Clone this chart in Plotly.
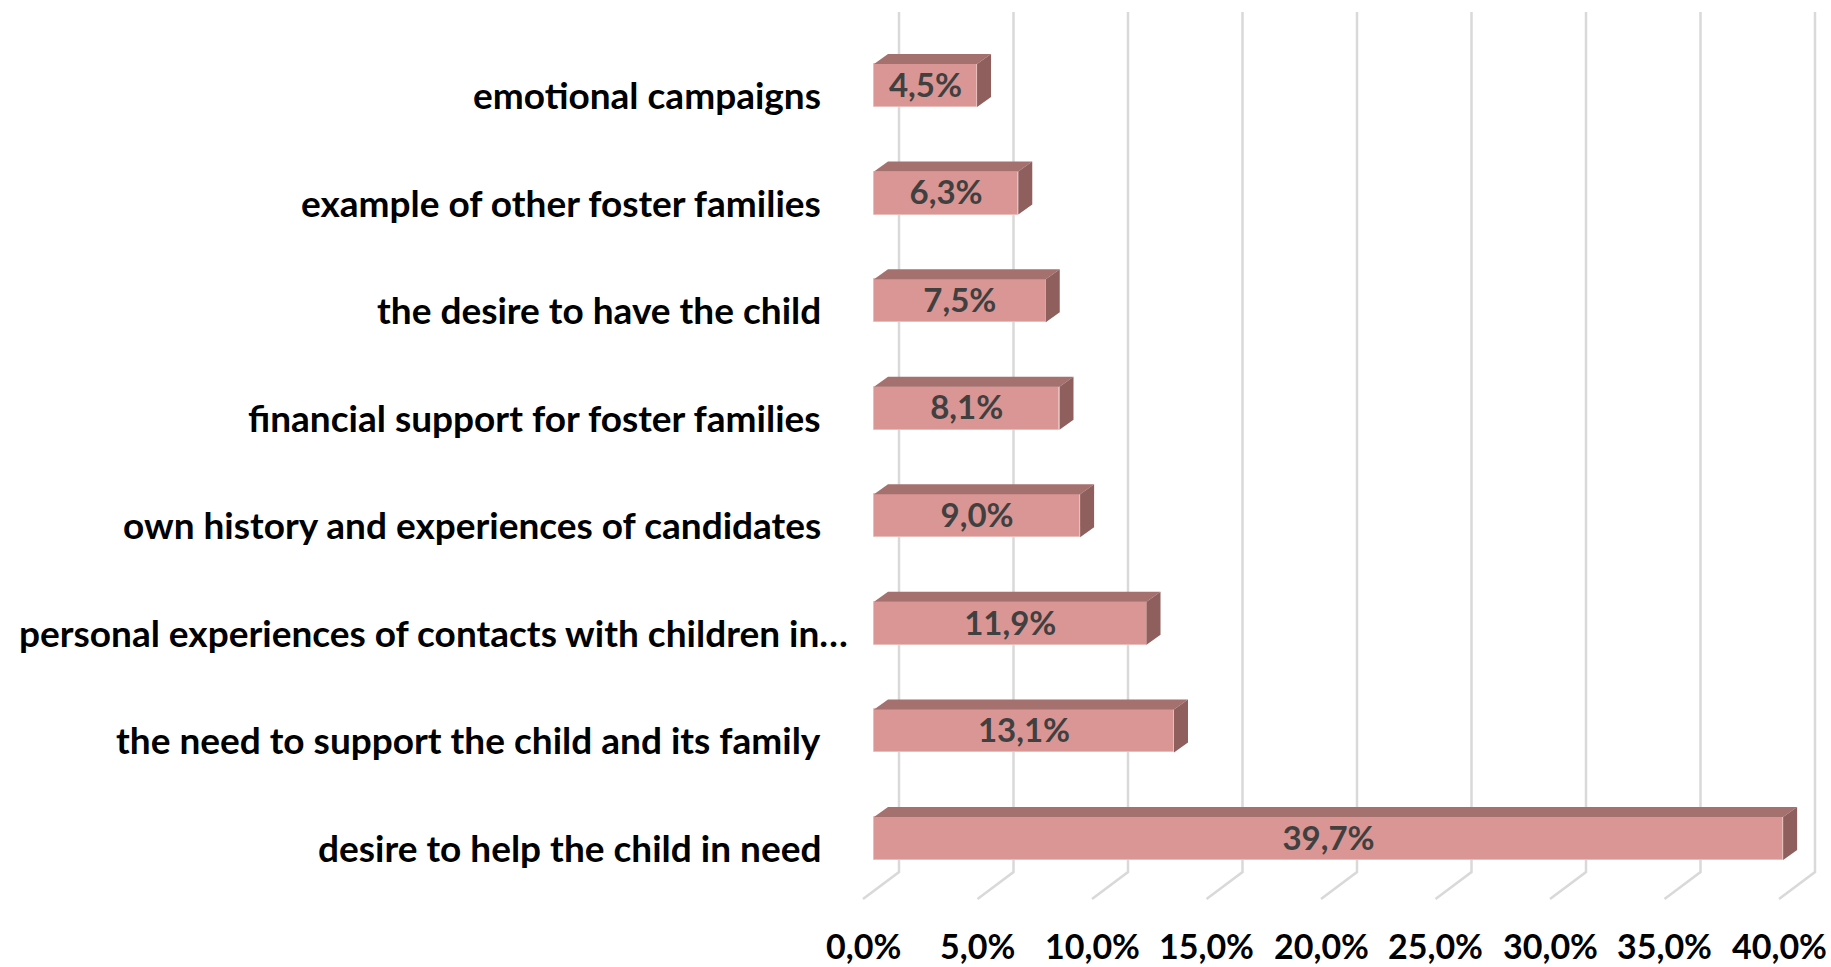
import plotly.graph_objects as go

# ---- data (bottom to top) ----
categories = [
    "desire to help the child in need",
    "the need to support the child and its family",
    "personal experiences of contacts with children in…",
    "own history and experiences of candidates",
    "financial support for foster families",
    "the desire to have the child",
    "example of other foster families",
    "emotional campaigns",
]
values = [39.7, 13.1, 11.9, 9.0, 8.1, 7.5, 6.3, 4.5]
tick_values = [0, 5, 10, 15, 20, 25, 30, 35, 40]
tick_labels = ["0,0%", "5,0%", "10,0%", "15,0%", "20,0%", "25,0%", "30,0%", "35,0%", "40,0%"]

# ---- geometry (pixel-based style constants) ----
W, H = 1831, 967
PX = 22.9          # px per percentage point
PY = 107.57        # px per category
X_ZERO_PX = 874    # pixel of value 0 on bar front plane
Y_BOTTOM_PX = 838.5  # pixel of bottom category center
X0 = -X_ZERO_PX / PX
X1 = (W - X_ZERO_PX) / PX
YHI = Y_BOTTOM_PX / PY
YLO = -(H - Y_BOTTOM_PX) / PY

def ypix(p):
    return YHI - p / PY

BAR_H = 43 / PY
DX = 14 / PX
DY = 10 / PY

FRONT = "#D99694"
TOP = "#A5716F"
SIDE = "#8F5F5E"
EDGE = "#E8BEBD"
GRID = "#D9D9D9"
FONT = "Lato"

fig = go.Figure()

# gridlines (back wall + floor diagonal)
shapes = []
for v in tick_values:
    xb = v + 25 / PX
    xf = v - 11 / PX
    path = f"M {xb},{ypix(12)} L {xb},{ypix(872)} L {xf},{ypix(899)}"
    shapes.append(dict(type="path", path=path, xref="x", yref="y",
                       line=dict(color=GRID, width=2.5), layer="below"))

ys = list(range(len(categories)))

# front faces
fig.add_trace(go.Bar(
    x=values, y=ys, orientation="h", width=BAR_H,
    marker=dict(color=FRONT, line=dict(color=EDGE, width=1)),
    hoverinfo="skip", showlegend=False,
))

# top and side faces
for v, y in zip(values, ys):
    yt = y + BAR_H / 2
    yb = y - BAR_H / 2
    fig.add_trace(go.Scatter(
        x=[0, v, v + DX, DX, 0], y=[yt, yt, yt + DY, yt + DY, yt],
        fill="toself", fillcolor=TOP, line=dict(width=0), mode="lines",
        hoverinfo="skip", showlegend=False))
    fig.add_trace(go.Scatter(
        x=[v, v + DX, v + DX, v, v], y=[yb, yb + DY, yt + DY, yt, yb],
        fill="toself", fillcolor=SIDE, line=dict(width=0), mode="lines",
        hoverinfo="skip", showlegend=False))

# data labels
fig.add_trace(go.Scatter(
    x=[v / 2 for v in values], y=[y - 3 / PY for y in ys], mode="text",
    text=[f"{v:.1f}".replace(".", ",") + "%" for v in values],
    textposition="middle center",
    textfont=dict(family=FONT, size=33, color="#404040", weight="bold"),
    hoverinfo="skip", showlegend=False))

annotations = []
# category labels
for c, y in zip(categories, ys):
    right_px = 850 if c.endswith("…") else 823
    annotations.append(dict(
        x=(right_px - X_ZERO_PX) / PX, y=y - 9 / PY, xref="x", yref="y",
        text=c, showarrow=False, xanchor="right", yanchor="middle",
        font=dict(family=FONT, size=37, color="#000000", weight="bold")))
# x tick labels
for v, t in zip(tick_values, tick_labels):
    annotations.append(dict(
        x=v - 11 / PX, y=ypix(945), xref="x", yref="y",
        text=t, showarrow=False, xanchor="center", yanchor="middle",
        borderpad=0,
        font=dict(family=FONT, size=34, color="#000000", weight="bold")))

fig.update_layout(
    width=W, height=H,
    margin=dict(l=0, r=0, t=0, b=0),
    paper_bgcolor="white", plot_bgcolor="white",
    shapes=shapes, annotations=annotations,
    xaxis=dict(range=[X0, X1], visible=False, fixedrange=True),
    yaxis=dict(range=[YLO, YHI], visible=False, fixedrange=True),
    bargap=0,
)

fig.write_html("out.html", config={"displayModeBar": False},
               post_script="document.body.style.margin='0';document.body.style.overflow='hidden';")
